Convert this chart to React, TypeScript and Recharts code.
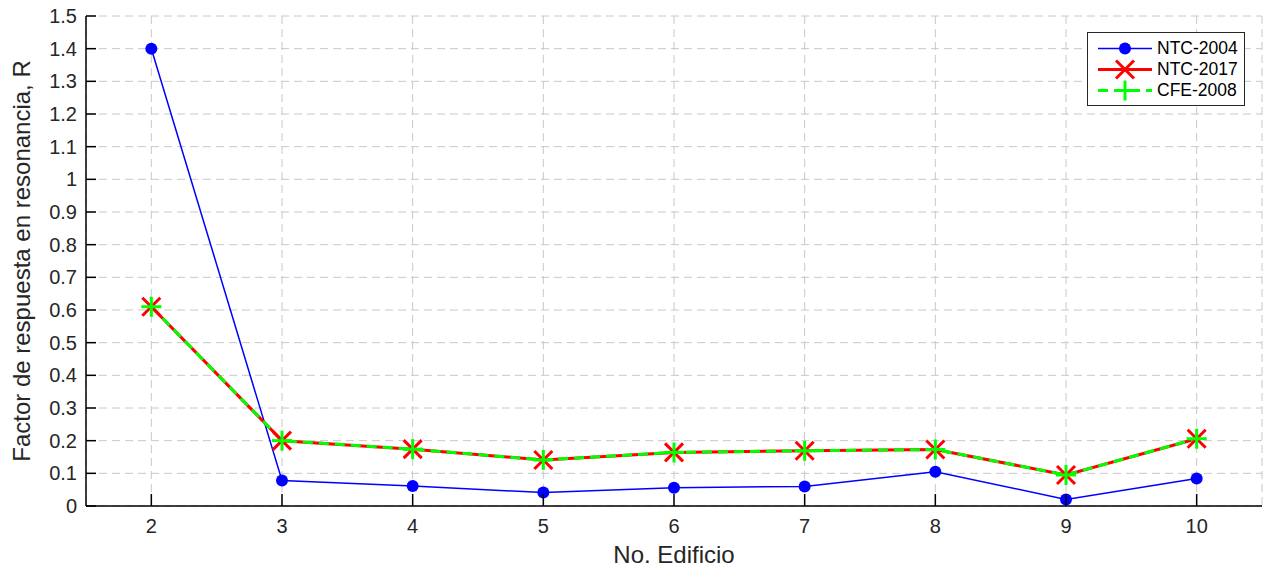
import { LineChart, Line, XAxis, YAxis, CartesianGrid, Legend } from "recharts";

const edificios = [2, 3, 4, 5, 6, 7, 8, 9, 10];
const ntc2004 = [1.4, 0.078, 0.061, 0.041, 0.056, 0.06, 0.105, 0.02, 0.084];
const ntc2017 = [0.61, 0.2, 0.174, 0.141, 0.164, 0.169, 0.173, 0.095, 0.206];
const cfe2008 = [0.61, 0.2, 0.174, 0.141, 0.164, 0.169, 0.173, 0.095, 0.206];
const yTicks = [0, 0.1, 0.2, 0.3, 0.4, 0.5, 0.6, 0.7, 0.8, 0.9, 1, 1.1, 1.2, 1.3, 1.4, 1.5];

const data = edificios.map((e, i) => ({
  edificio: e,
  ntc2004: ntc2004[i],
  ntc2017: ntc2017[i],
  cfe2008: cfe2008[i],
}));

const FONT = "'Liberation Sans', Arial, Helvetica, sans-serif";
const X_TICK_LEN = 12;
const Y_TICK_LEN = 10;

function BottomTick({ x, y, payload }: any) {
  return (
    <g>
      <line x1={x} y1={y} x2={x} y2={y - X_TICK_LEN} stroke="#000" strokeWidth={1.5} />
      <text x={x} y={y + 27} textAnchor="middle" fontSize={20} fill="#262626" fontFamily={FONT}>
        {payload.value}
      </text>
    </g>
  );
}

function TopTick({ x, y }: any) {
  return <line x1={x} y1={y} x2={x} y2={y + X_TICK_LEN} stroke="#000" strokeWidth={1.5} />;
}

function LeftTick({ x, y, payload }: any) {
  return (
    <g>
      <line x1={x} y1={y} x2={x + Y_TICK_LEN} y2={y} stroke="#000" strokeWidth={1.5} />
      <text x={x - 9} y={y + 7} textAnchor="end" fontSize={20} fill="#262626" fontFamily={FONT}>
        {payload.value}
      </text>
    </g>
  );
}

function RightTick({ x, y }: any) {
  return <line x1={x} y1={y} x2={x - Y_TICK_LEN} y2={y} stroke="#000" strokeWidth={1.5} />;
}

function CircleDot({ cx, cy, index }: any) {
  return <circle key={`c${index}`} cx={cx} cy={cy} r={6} fill="#0000ff" />;
}

function CrossDot({ cx, cy, index }: any) {
  const s = 9;
  return (
    <g key={`x${index}`}>
      <line x1={cx - s} y1={cy - s} x2={cx + s} y2={cy + s} stroke="#ff0000" strokeWidth={3} />
      <line x1={cx - s} y1={cy + s} x2={cx + s} y2={cy - s} stroke="#ff0000" strokeWidth={3} />
    </g>
  );
}

function PlusDot({ cx, cy, index }: any) {
  const s = 10;
  return (
    <g key={`p${index}`}>
      <line x1={cx - s} y1={cy} x2={cx + s} y2={cy} stroke="#00ff00" strokeWidth={3} />
      <line x1={cx} y1={cy - s} x2={cx} y2={cy + s} stroke="#00ff00" strokeWidth={3} />
    </g>
  );
}

const legendItems = [
  { name: "NTC-2004", color: "#0000ff", width: 1.5, dash: undefined, marker: "circle" },
  { name: "NTC-2017", color: "#ff0000", width: 3, dash: undefined, marker: "cross" },
  { name: "CFE-2008", color: "#00ff00", width: 3, dash: "10 6", marker: "plus" },
];

function LegendBox() {
  return (
    <div
      style={{
        border: "1px solid #262626",
        background: "#fff",
        padding: "5px 6px 4px 9px",
        fontFamily: FONT,
      }}
    >
      {legendItems.map((it) => (
        <div key={it.name} style={{ display: "flex", alignItems: "center", height: 21 }}>
          <svg width={56} height={21}>
            <line x1={1} y1={10.5} x2={55} y2={10.5} stroke={it.color} strokeWidth={it.width} strokeDasharray={it.dash} />
            {it.marker === "circle" && <CircleDot cx={28} cy={10.5} index={0} />}
            {it.marker === "cross" && <CrossDot cx={28} cy={10.5} index={0} />}
            {it.marker === "plus" && <PlusDot cx={28} cy={10.5} index={0} />}
          </svg>
          <span style={{ fontSize: 17.5, color: "#000", marginLeft: 4, lineHeight: "21px" }}>{it.name}</span>
        </div>
      ))}
    </div>
  );
}

function YLabel({ viewBox }: any) {
  const cx = viewBox.x + 30;
  const cy = viewBox.y + viewBox.height / 2;
  return (
    <text
      x={cx}
      y={cy}
      transform={`rotate(-90, ${cx}, ${cy})`}
      textAnchor="middle"
      fontSize={24}
      fill="#262626"
      fontFamily={FONT}
    >
      Factor de respuesta en resonancia, R
    </text>
  );
}

export default function App() {
  return (
    <div style={{ position: "absolute", left: 0, top: 0, background: "#fff", fontFamily: FONT }}>
      <LineChart width={1263} height={567} data={data} margin={{ top: 16, right: 1, bottom: 0, left: 0 }}>
        <CartesianGrid stroke="#c8c8c8" strokeDasharray="8 5" strokeWidth={1} />
        <XAxis
          dataKey="edificio"
          type="number"
          domain={[1.5, 10.5]}
          ticks={edificios}
          height={61}
          tickSize={0}
          tickMargin={0}
          tick={<BottomTick />}
          axisLine={{ stroke: "#000", strokeWidth: 1.5 }}
          interval={0}
          label={{ value: "No. Edificio", position: "insideBottom", offset: 4, fontSize: 24, fill: "#262626", fontFamily: FONT }}
        />
        <XAxis
          xAxisId="top"
          orientation="top"
          dataKey="edificio"
          type="number"
          domain={[1.5, 10.5]}
          ticks={edificios}
          height={0}
          tickSize={0}
          tickMargin={0}
          tick={<TopTick />}
          axisLine={{ stroke: "#000", strokeWidth: 1.5 }}
          interval={0}
        />
        <YAxis
          type="number"
          domain={[0, 1.5]}
          ticks={yTicks}
          width={86}
          tickSize={0}
          tickMargin={0}
          tick={<LeftTick />}
          axisLine={{ stroke: "#000", strokeWidth: 1.5 }}
          interval={0}
          label={{ content: <YLabel /> }}
        />
        <YAxis
          yAxisId="right"
          orientation="right"
          type="number"
          domain={[0, 1.5]}
          ticks={yTicks}
          width={0}
          tickSize={0}
          tickMargin={0}
          tick={<RightTick />}
          axisLine={{ stroke: "#000", strokeWidth: 1.5 }}
          interval={0}
        />
        <Legend
          layout="vertical"
          align="center"
          verticalAlign="middle"
          wrapperStyle={{ left: 1087, top: 32, width: "auto", height: "auto" }}
          content={() => <LegendBox />}
        />
        <Line
          dataKey="ntc2004"
          name="NTC-2004"
          stroke="#0000ff"
          strokeWidth={1.5}
          dot={CircleDot}
          activeDot={false}
          isAnimationActive={false}
        />
        <Line
          dataKey="ntc2017"
          name="NTC-2017"
          stroke="#ff0000"
          strokeWidth={3}
          dot={CrossDot}
          activeDot={false}
          isAnimationActive={false}
        />
        <Line
          dataKey="cfe2008"
          name="CFE-2008"
          stroke="#00ff00"
          strokeWidth={3}
          strokeDasharray="10 6"
          dot={PlusDot}
          activeDot={false}
          isAnimationActive={false}
        />
      </LineChart>
    </div>
  );
}
